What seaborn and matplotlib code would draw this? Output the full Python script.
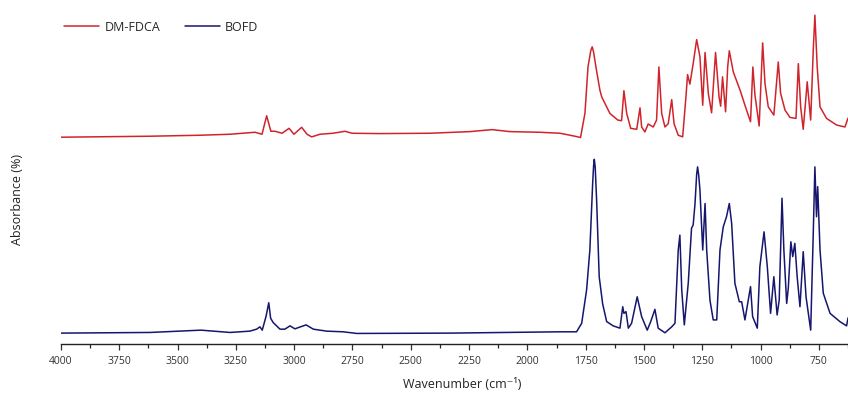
import pandas as pd
import matplotlib
matplotlib.use('Agg')
import matplotlib.pyplot as plt
from matplotlib.ticker import MultipleLocator
import seaborn as sns

# FTIR spectra (wavenumber in cm-1, absorbance in arbitrary units, offset)
dmfdca_wn = [4000, 3618, 3404, 3275, 3168, 3138, 3118, 3100, 3082, 3052, 3022, 3001, 2968, 2945,
             2925, 2889, 2834, 2782, 2752, 2632, 2418, 2246, 2152, 2075, 1946, 1860, 1796, 1772,
             1753, 1740, 1728, 1722, 1716, 1706, 1689, 1681, 1646, 1612, 1596, 1586, 1574, 1557,
             1531, 1517, 1510, 1496, 1482, 1460, 1446, 1436, 1424, 1410, 1396, 1381, 1371, 1353,
             1334, 1320, 1313, 1303, 1289, 1274, 1260, 1248, 1238, 1224, 1210, 1193, 1178, 1171,
             1163, 1150, 1141, 1134, 1117, 1088, 1060, 1043, 1033, 1024, 1006, 991, 981, 967, 943,
             924, 914, 895, 874, 848, 838, 828, 817, 807, 800, 785, 774, 767, 757, 745, 717, 674,
             638, 625]
dmfdca_abs = [0.627, 0.630, 0.633, 0.636, 0.642, 0.636, 0.692, 0.645, 0.645, 0.639, 0.654, 0.636,
              0.657, 0.636, 0.628, 0.636, 0.639, 0.645, 0.639, 0.638, 0.639, 0.644, 0.650, 0.644,
              0.642, 0.639, 0.630, 0.626, 0.700, 0.840, 0.890, 0.901, 0.885, 0.840, 0.770, 0.749,
              0.699, 0.679, 0.677, 0.768, 0.699, 0.654, 0.651, 0.716, 0.658, 0.643, 0.667, 0.658,
              0.679, 0.840, 0.699, 0.658, 0.668, 0.741, 0.668, 0.633, 0.628, 0.749, 0.817, 0.788,
              0.850, 0.923, 0.871, 0.724, 0.884, 0.760, 0.701, 0.884, 0.749, 0.721, 0.810, 0.704,
              0.840, 0.889, 0.825, 0.770, 0.709, 0.674, 0.840, 0.755, 0.661, 0.913, 0.790, 0.719,
              0.694, 0.855, 0.760, 0.709, 0.687, 0.684, 0.850, 0.719, 0.651, 0.734, 0.795, 0.679,
              0.891, 0.997, 0.840, 0.719, 0.684, 0.664, 0.658, 0.685]

bofd_wn = [4000, 3618, 3400, 3275, 3190, 3161, 3147, 3137, 3121, 3109, 3101, 3090, 3061, 3040,
           3018, 2997, 2949, 2918, 2861, 2790, 2732, 2332, 1860, 1789, 1767, 1746, 1732, 1720,
           1716, 1713, 1709, 1703, 1692, 1677, 1660, 1632, 1603, 1591, 1586, 1577, 1567, 1553,
           1529, 1510, 1486, 1471, 1453, 1439, 1410, 1381, 1367, 1353, 1346, 1338, 1327, 1310,
           1296, 1289, 1281, 1274, 1270, 1265, 1260, 1248, 1238, 1231, 1217, 1203, 1188, 1174,
           1160, 1146, 1134, 1124, 1110, 1091, 1081, 1067, 1043, 1034, 1014, 1003, 985, 971, 957,
           943, 929, 920, 908, 900, 888, 881, 870, 862, 853, 843, 831, 817, 805, 785, 774, 767,
           760, 755, 745, 731, 702, 660, 631, 625]
bofd_abs = [0.033, 0.035, 0.042, 0.035, 0.039, 0.045, 0.052, 0.042, 0.083, 0.125, 0.078, 0.065,
            0.045, 0.045, 0.055, 0.046, 0.058, 0.045, 0.039, 0.037, 0.032, 0.033, 0.037, 0.037,
            0.063, 0.164, 0.285, 0.487, 0.540, 0.560, 0.535, 0.436, 0.204, 0.121, 0.068, 0.055,
            0.048, 0.113, 0.093, 0.098, 0.048, 0.063, 0.143, 0.083, 0.042, 0.068, 0.105, 0.048,
            0.034, 0.052, 0.063, 0.285, 0.330, 0.164, 0.058, 0.185, 0.351, 0.361, 0.426, 0.515,
            0.537, 0.510, 0.467, 0.285, 0.426, 0.285, 0.133, 0.073, 0.073, 0.285, 0.355, 0.386,
            0.426, 0.366, 0.184, 0.128, 0.128, 0.073, 0.174, 0.083, 0.048, 0.234, 0.340, 0.234,
            0.093, 0.204, 0.088, 0.133, 0.442, 0.285, 0.123, 0.170, 0.310, 0.265, 0.305, 0.204,
            0.113, 0.280, 0.143, 0.042, 0.335, 0.537, 0.386, 0.477, 0.285, 0.154, 0.093, 0.068,
            0.055, 0.079]

series_names = ['DM-FDCA', 'BOFD']
series_colors = ['#d0242c', '#16166e']
x_ticks = [4000, 3750, 3500, 3250, 3000, 2750, 2500, 2250, 2000, 1750, 1500, 1250, 1000, 750]


def main():
    df = pd.concat([
        pd.DataFrame({'wn': dmfdca_wn, 'abs': dmfdca_abs, 'sample': series_names[0]}),
        pd.DataFrame({'wn': bofd_wn, 'abs': bofd_abs, 'sample': series_names[1]}),
    ])

    sns.set_style('white')
    plt.rcParams['font.family'] = ['Open Sans', 'DejaVu Sans']

    fig = plt.figure(figsize=(8.48, 3.98), dpi=100)
    ax = fig.add_axes([61 / 848, 54 / 398, 787 / 848, 343 / 398])

    sns.lineplot(data=df, x='wn', y='abs', hue='sample', palette=series_colors,
                 estimator=None, sort=False, linewidth=1.1, ax=ax)

    ax.set_xlim(4000, 625)
    ax.set_ylim(0, 1.04)
    ax.set_xticks(x_ticks)
    ax.xaxis.set_minor_locator(MultipleLocator(125))
    ax.tick_params(axis='x', which='major', direction='out', length=4.5, width=0.9,
                   bottom=True, labelsize=7.5, pad=4, colors='#333333')
    ax.tick_params(axis='x', which='minor', direction='out', length=3, width=0.9, bottom=True)
    ax.set_yticks([])

    for side in ['top', 'right', 'left']:
        ax.spines[side].set_visible(False)
    ax.spines['bottom'].set_color('#222222')
    ax.spines['bottom'].set_linewidth(1.0)

    ax.set_xlabel('Wavenumber (cm\u207b\u00b9)', fontsize=9, color='#222222')
    ax.xaxis.set_label_coords(0.51, -0.1)
    ax.set_ylabel('Absorbance (%)', fontsize=9, color='#222222')
    ax.yaxis.set_label_coords(-0.047, 0.42)

    ax.legend(loc='upper left', bbox_to_anchor=(-0.01, 0.975), ncol=2, frameon=False,
              fontsize=9, handlelength=2.8, handletextpad=0.4, columnspacing=2.0, title=None)

    fig.savefig('out.png', dpi=100)


if __name__ == "__main__":
    main()
